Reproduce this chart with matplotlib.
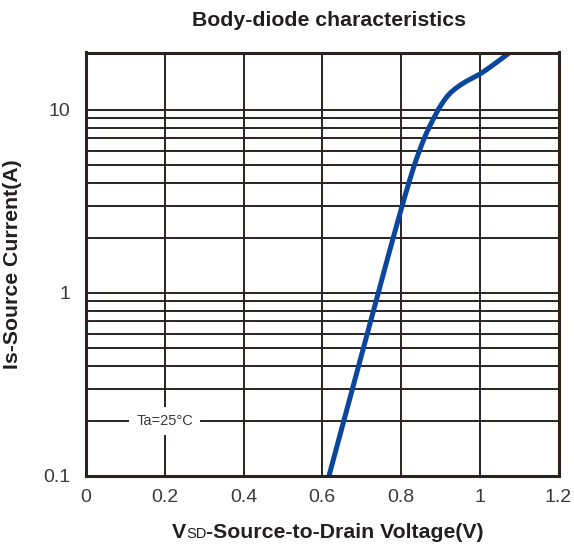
import numpy as np
import matplotlib
matplotlib.use("Agg")
import matplotlib.pyplot as plt
from matplotlib.offsetbox import TextArea, HPacker, AnchoredOffsetbox
from matplotlib.ticker import FixedLocator, NullFormatter

# Data
vsd = [0.617, 0.742, 0.803, 0.820, 0.834, 0.847, 0.859, 0.871, 0.883, 0.894,
       0.924, 0.958, 1.000, 1.046, 1.080]
i_s = [0.10, 1.0, 3.0, 4.0, 5.0, 6.0, 7.0, 8.0, 9.0, 10.0,
       12.3, 14.0, 15.7, 18.4, 20.9]

x_ticks = [0, 0.2, 0.4, 0.6, 0.8, 1.0, 1.2]
x_tick_labels = ["0", "0.2", "0.4", "0.6", "0.8", "1", "1.2"]
y_ticks = [0.1, 1, 10]
y_tick_labels = ["0.1", "1", "10"]
y_minor = [m * d for d in (0.1, 1) for m in range(2, 10)]

title = "Body-diode characteristics"
ylabel = "Is-Source Current(A)"
xlabel_parts = ["V", "SD", "-Source-to-Drain Voltage(V)"]
annot = "Ta=25°C"

plt.rcParams['font.family'] = ['Liberation Sans', 'DejaVu Sans']

grid_c = "#2b2320"
line_c = "#0a469e"
text_c = "#231f20"


def pchip(x, y, xn):
    x = np.asarray(x, float)
    y = np.asarray(y, float)
    h = np.diff(x)
    d = np.diff(y) / h
    n = len(x)
    m = np.zeros(n)
    m[0] = d[0]
    m[-1] = d[-1]
    for k in range(1, n - 1):
        if d[k - 1] * d[k] <= 0:
            m[k] = 0
        else:
            w1 = 2 * h[k] + h[k - 1]
            w2 = h[k] + 2 * h[k - 1]
            m[k] = (w1 + w2) / (w1 / d[k - 1] + w2 / d[k])
    idx = np.clip(np.searchsorted(x, xn) - 1, 0, n - 2)
    t = (xn - x[idx]) / h[idx]
    h00 = 2 * t ** 3 - 3 * t ** 2 + 1
    h10 = t ** 3 - 2 * t ** 2 + t
    h01 = -2 * t ** 3 + 3 * t ** 2
    h11 = t ** 3 - t ** 2
    return h00 * y[idx] + h10 * h[idx] * m[idx] + h01 * y[idx + 1] + h11 * h[idx] * m[idx + 1]


fig = plt.figure(figsize=(5.74, 5.46), dpi=100)
ax = fig.add_axes([86/574, 1 - 476/546, (558.5 - 86)/574, (476 - 52.5)/546])

ax.set_yscale("log")
ax.set_xlim(0, 1.2)
ax.set_ylim(0.1, 20.6)

# grid
for xv in x_ticks[1:-1]:
    ax.axvline(xv, color=grid_c, lw=1.4, zorder=1)
for yv in y_minor + [1, 10]:
    ax.axhline(yv, color=grid_c, lw=1.4, zorder=1)

# curve: monotone interpolation in log space
xs = np.linspace(vsd[0], vsd[-1], 600)
ys = 10 ** pchip(vsd, np.log10(i_s), xs)
ax.plot(xs, ys, color=line_c, lw=3.6, zorder=3, solid_capstyle="butt")

# ticks
ax.set_xticks(x_ticks)
ax.set_xticklabels(x_tick_labels)
ax.yaxis.set_major_locator(FixedLocator(y_ticks))
ax.set_yticklabels(y_tick_labels)
ax.yaxis.set_minor_locator(FixedLocator(y_minor))
ax.yaxis.set_minor_formatter(NullFormatter())
ax.tick_params(axis="both", which="both", length=0, labelsize=14, labelcolor="#3a3a3a")
ax.tick_params(axis="x", pad=9)
ax.tick_params(axis="y", pad=11)

for sp in ax.spines.values():
    sp.set_color(grid_c)
    sp.set_linewidth(2.2)
    sp.set_zorder(4)

ax.text(0.2, 0.2, annot, ha="center", va="center", fontsize=10.5, color="#3a3a3a", zorder=2,
        bbox=dict(facecolor="white", edgecolor="none", pad=5))

fig.text(329 / 574, 1 - 20 / 546, title, ha="center", va="center",
         fontsize=15.3, fontweight="bold", color=text_c)

ax.set_ylabel(ylabel, fontsize=15.3, fontweight="bold", color=text_c)
ax.yaxis.set_label_coords((22 - 86) / 472.5, 0.5)

# x label with small "SD"
ta1 = TextArea(xlabel_parts[0], textprops=dict(fontsize=15.3, fontweight="bold", color=text_c))
ta2 = TextArea(xlabel_parts[1], textprops=dict(fontsize=10.5, fontweight="normal", color=text_c))
ta3 = TextArea(xlabel_parts[2], textprops=dict(fontsize=15.3, fontweight="bold", color=text_c))
box = HPacker(children=[ta1, ta2, ta3], align="baseline", pad=0, sep=0)
anch = AnchoredOffsetbox(loc="center", child=box, frameon=False,
                         bbox_to_anchor=((328 - 86) / 472.5, -(533 - 476) / 423.5),
                         bbox_transform=ax.transAxes, pad=0, borderpad=0)
ax.add_artist(anch)

fig.savefig("out.png", dpi=100, facecolor="white")
